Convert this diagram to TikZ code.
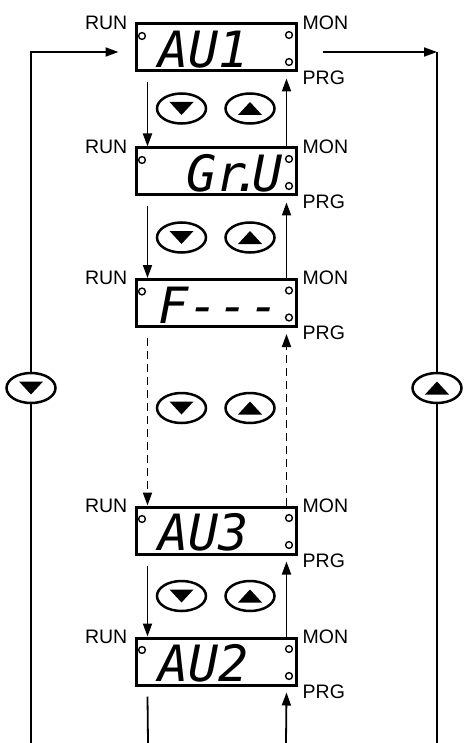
\documentclass[tikz,border=0pt]{standalone}
\usepackage{fontspec}
\setmainfont{Liberation Sans}
\newfontfamily\segfont{DejaVu Sans Mono}
\usetikzlibrary{arrows.meta, positioning, shapes.geometric}
\tikzset{
    tag/.style      ={font=\fontsize{19.5}{19.5}\selectfont, inner sep=0pt},
    display/.style  ={rectangle, draw=black, line width=3pt, fill=white, minimum width=160pt, minimum height=47pt, inner sep=0pt,
                      label={[tag, anchor=east, xshift=-7pt, yshift=0pt]north west:RUN},
                      label={[tag, anchor=west, xshift=5pt, yshift=0pt]north east:MON},
                      label={[tag, anchor=west, xshift=5pt, yshift=-5pt]south east:PRG},
                      path picture={
                          \draw[black, line width=1.4pt] ([xshift=6pt,yshift=-12pt]path picture bounding box.north west) circle (3.4pt);
                          \draw[black, line width=1.4pt] ([xshift=-7pt,yshift=-11pt]path picture bounding box.north east) circle (3.4pt);
                          \draw[black, line width=1.4pt] ([xshift=-7pt,yshift=9pt]path picture bounding box.south east) circle (3.4pt);
                      }},
    segtext/.style  ={font=\segfont\itshape\fontsize{50}{50}\selectfont, inner sep=0pt},
    button/.style   ={ellipse, draw=black, line width=2.5pt, fill=white, minimum width=49pt, minimum height=30pt, inner sep=0pt},
    downbtn/.style  ={button, path picture={\fill[black] ([yshift=-6.5pt]path picture bounding box.center) -- ++(-12pt,13pt) -- ++(24pt,0pt) -- cycle;}},
    upbtn/.style    ={button, path picture={\fill[black] ([yshift=6.5pt]path picture bounding box.center) -- ++(-12pt,-13pt) -- ++(24pt,0pt) -- cycle;}},
    flowline/.style ={line width=1.8pt},
    flowarrow/.style={-{Triangle[length=13pt,width=9pt]}, line width=1.8pt},
}
\begin{document}
\begin{tikzpicture}[x=1pt, y=-1pt, node distance=17pt]
    \useasboundingbox (0,0) rectangle (463,743);
    % displays
    \node[display] (auA) at (216,47.5) {};
    \node[display] (grU) at (216,171.5) {};
    \node[display] (fDash) at (216,303) {};
    \node[display] (auC) at (216,530.5) {};
    \node[display] (auB) at (216,661.5) {};
    \node[segtext, anchor=base west] at ([xshift=24pt,yshift=-20pt]auA.west) {AU1};
    \node[segtext, anchor=base east] at ([xshift=-15pt,yshift=-20pt]grU.east) {Gr\kern-15pt.\kern-10pt U};
    \node[segtext, anchor=base west] at ([xshift=24pt,yshift=-20pt]fDash.west) {F---};
    \node[segtext, anchor=base west] at ([xshift=24pt,yshift=-20pt]auC.west) {AU3};
    \node[segtext, anchor=base west] at ([xshift=24pt,yshift=-20pt]auB.west) {AU2};
    % buttons
    \node[downbtn] (dnA) at (181.5,108.5) {};
    \node[upbtn, right=of dnA] (upA) {};
    \node[downbtn] (dnB) at (181.5,237.5) {};
    \node[upbtn, right=of dnB] (upB) {};
    \node[downbtn] (dnC) at (181.5,408) {};
    \node[upbtn, right=of dnC] (upC) {};
    \node[downbtn] (dnD) at (181.5,596) {};
    \node[upbtn, right=of dnD] (upD) {};
    \node[downbtn] (lbtn) at (31,388) {};
    \node[upbtn] (rbtn) at (437,388) {};
    % steps between displays
    \draw[flowarrow] ([xshift=13pt,yshift=-10pt]auA.south west) -- ([xshift=13pt]grU.north west);
    \draw[flowarrow] ([xshift=-11pt]grU.north east) -- ([xshift=-11pt,yshift=-6pt]auA.south east);
    \draw[flowarrow] ([xshift=13pt,yshift=-10pt]grU.south west) -- ([xshift=13pt]fDash.north west);
    \draw[flowarrow] ([xshift=-11pt]fDash.north east) -- ([xshift=-11pt,yshift=-6pt]grU.south east);
    \draw[flowarrow, dash pattern=on 8pt off 5pt] ([xshift=13pt,yshift=-10pt]fDash.south west) -- ([xshift=13pt]auC.north west);
    \draw[flowarrow, dash pattern=on 8pt off 5pt] ([xshift=-11pt]auC.north east) -- ([xshift=-11pt,yshift=-6pt]fDash.south east);
    \draw[flowarrow] ([xshift=13pt,yshift=-10pt]auC.south west) -- ([xshift=13pt]auB.north west);
    \draw[flowarrow] ([xshift=-11pt]auB.north east) -- ([xshift=-11pt,yshift=-6pt]auC.south east);
    % open ends at the bottom
    \coordinate (ldown) at (148,743);
    \coordinate (rup) at (286,743);
    \draw[flowline] ([xshift=13pt,yshift=-10pt]auB.south west) -- (ldown);
    \draw[flowarrow] (rup) -- ([xshift=-11pt,yshift=-6pt]auB.south east);
    % outer loop
    \coordinate (lbot) at (31,743);
    \coordinate (ltop) at (31,52);
    \coordinate (rtop) at (437,52);
    \coordinate (rbot) at (437,743);
    \draw[flowline] (lbot) -- (lbtn);
    \draw[flowarrow] (lbtn) -- (ltop) -- ([xshift=-16pt,yshift=-4.5pt]auA.west);
    \draw[flowarrow] ([xshift=25pt,yshift=-4.5pt]auA.east) -- (rtop);
    \draw[flowline] (rtop) -- (rbtn) -- (rbot);
\end{tikzpicture}
\end{document}
